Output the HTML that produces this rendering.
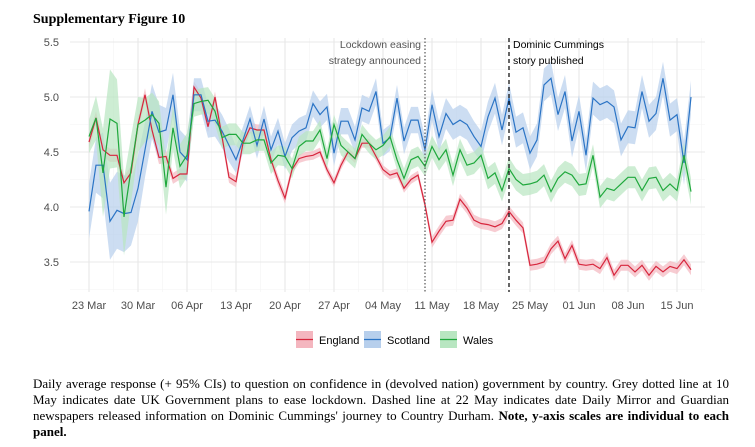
<!DOCTYPE html>
<html><head><meta charset="utf-8">
<style>
body{margin:0;background:#fff;width:755px;height:447px;overflow:hidden;position:relative;font-family:"Liberation Sans",sans-serif}
.cap{position:absolute;left:33px;width:696px;font-family:"Liberation Serif",serif;font-size:13px;color:#000;text-align:justify;text-align-last:justify;white-space:nowrap}
</style></head><body>
<svg id="chart" width="755" height="370" style="position:absolute;left:0;top:0">
<text x="33" y="23" font-family="Liberation Serif,serif" font-weight="bold" font-size="14">Supplementary Figure 10</text>
<g id="grid"></g><g id="bands"></g><g id="lines"></g><g id="axes"></g><g id="legend"></g>
</svg>
<div class="cap" style="top:376px">Daily average response (+ 95% CIs) to question on confidence in (devolved nation) government by country. Grey dotted line at 10</div>
<div class="cap" style="top:392px">May indicates date UK Government plans to ease lockdown. Dashed line at 22 May indicates date Daily Mirror and Guardian</div>
<div class="cap" style="top:408px">newspapers released information on Dominic Cummings' journey to Country Durham. <b>Note, y-axis scales are individual to each</b></div>
<div class="cap" style="top:424px;text-align-last:left"><b>panel.</b></div>
<script>
const xTickLabels=["23 Mar","30 Mar","06 Apr","13 Apr","20 Apr","27 Apr","04 May","11 May","18 May","25 May","01 Jun","08 Jun","15 Jun"];
const yTicks=[3.5,4.0,4.5,5.0,5.5];
const england=[4.59,4.81,4.52,4.47,4.47,4.22,4.31,4.75,5.02,4.70,4.45,4.46,4.26,4.30,4.30,5.09,4.99,4.73,5.0,4.64,4.27,4.23,4.58,4.72,4.70,4.70,4.43,4.24,4.08,4.34,4.44,4.46,4.47,4.50,4.34,4.22,4.38,4.50,4.44,4.58,4.58,4.46,4.34,4.29,4.31,4.17,4.25,4.29,4.02,3.68,3.78,3.87,3.88,4.07,3.99,3.88,3.85,3.84,3.82,3.85,3.96,3.88,3.81,3.47,3.48,3.50,3.62,3.69,3.53,3.65,3.48,3.47,3.48,3.44,3.54,3.38,3.47,3.47,3.41,3.47,3.38,3.46,3.41,3.46,3.44,3.52,3.43];
const scotland=[3.96,4.38,4.38,3.87,3.97,3.94,3.95,4.17,4.52,4.87,4.68,4.70,5.02,4.50,4.43,5.02,5.02,4.78,4.79,4.69,4.56,4.43,4.61,4.80,4.56,4.80,4.52,4.69,4.46,4.63,4.69,4.72,4.94,4.84,4.91,4.49,4.78,4.78,4.61,4.90,4.87,5.05,4.58,4.63,4.99,4.60,4.79,4.79,4.52,4.93,4.64,4.85,4.75,4.79,4.75,4.64,4.55,4.82,4.99,4.70,4.99,4.68,4.72,4.49,4.61,5.11,5.17,4.84,5.05,4.60,4.87,4.47,4.99,4.93,4.96,4.91,4.61,4.73,4.72,5.05,4.78,4.85,5.17,4.79,4.84,4.40,5.0];
const wales=[4.64,4.81,4.31,4.80,4.76,3.91,4.34,4.75,4.79,4.84,4.76,4.18,4.72,4.37,4.47,4.94,4.96,4.97,4.87,4.63,4.66,4.66,4.58,4.58,4.61,4.61,4.40,4.47,4.46,4.35,4.55,4.60,4.60,4.70,4.44,4.75,4.56,4.50,4.44,4.66,4.58,4.52,4.56,4.64,4.43,4.26,4.43,4.46,4.37,4.55,4.43,4.52,4.29,4.52,4.38,4.40,4.47,4.26,4.31,4.15,4.35,4.25,4.20,4.21,4.23,4.29,4.14,4.26,4.32,4.29,4.20,4.21,4.47,4.09,4.17,4.15,4.21,4.27,4.27,4.15,4.26,4.27,4.15,4.21,4.15,4.47,4.14];
const englandCI=[0.06,0.06,0.06,0.06,0.06,0.06,0.06,0.06,0.06,0.06,0.06,0.06,0.05,0.05,0.05,0.05,0.05,0.05,0.05,0.05,0.05,0.05,0.05,0.05,0.05,0.05,0.05,0.05,0.05,0.04,0.04,0.04,0.04,0.04,0.04,0.04,0.04,0.04,0.04,0.04,0.04,0.04,0.04,0.04,0.04,0.04,0.04,0.04,0.04,0.05,0.05,0.05,0.05,0.05,0.05,0.05,0.05,0.05,0.05,0.05,0.05,0.05,0.05,0.05,0.05,0.05,0.05,0.05,0.05,0.05,0.05,0.05,0.05,0.05,0.05,0.05,0.05,0.05,0.05,0.05,0.05,0.05,0.05,0.05,0.05,0.05,0.05];
const scotlandCI=[0.25,0.25,0.3,0.35,0.35,0.35,0.3,0.3,0.25,0.25,0.25,0.2,0.2,0.2,0.2,0.15,0.15,0.15,0.15,0.15,0.15,0.12,0.12,0.12,0.12,0.12,0.12,0.12,0.12,0.12,0.12,0.12,0.12,0.12,0.12,0.12,0.12,0.12,0.12,0.12,0.12,0.12,0.12,0.12,0.12,0.12,0.12,0.12,0.12,0.14,0.14,0.14,0.14,0.14,0.14,0.14,0.14,0.14,0.14,0.14,0.14,0.14,0.14,0.15,0.15,0.15,0.15,0.15,0.15,0.15,0.15,0.15,0.15,0.15,0.15,0.15,0.15,0.15,0.15,0.15,0.15,0.15,0.15,0.15,0.15,0.2,0.15];
const walesCI=[0.15,0.2,0.4,0.45,0.4,0.35,0.3,0.25,0.2,0.2,0.2,0.25,0.2,0.2,0.2,0.12,0.12,0.12,0.12,0.1,0.1,0.1,0.1,0.1,0.1,0.1,0.1,0.09,0.09,0.09,0.09,0.09,0.09,0.09,0.09,0.09,0.09,0.09,0.09,0.09,0.09,0.09,0.09,0.09,0.09,0.09,0.09,0.09,0.09,0.1,0.1,0.1,0.1,0.1,0.1,0.1,0.1,0.1,0.1,0.1,0.1,0.1,0.1,0.1,0.1,0.1,0.1,0.1,0.1,0.1,0.1,0.1,0.1,0.1,0.1,0.1,0.1,0.1,0.1,0.1,0.1,0.1,0.1,0.1,0.1,0.12,0.12];
const seriesNames=["England","Scotland","Wales"];
const NS="http://www.w3.org/2000/svg";
const X0=70,X1=705,Y0=38,Y1=292;
const xS=d=>89+7*d, yS=v=>97+(5.0-v)*110;
function mk(p,t,a){const e=document.createElementNS(NS,t);for(const k in a)e.setAttribute(k,a[k]);p.appendChild(e);return e;}
const grid=document.getElementById('grid'),bands=document.getElementById('bands'),lines=document.getElementById('lines'),axes=document.getElementById('axes'),leg=document.getElementById('legend');
// minor grid
for(let v=3.25;v<=5.5;v+=0.5){const l=mk(grid,'line',{x1:X0,x2:X1,y1:yS(v),y2:yS(v),stroke:'#f3f3f3','stroke-width':0.6});
}
for(let i=0;i<13;i++){const l=mk(grid,'line',{x1:xS(i*7+3.5),x2:xS(i*7+3.5),y1:Y0,y2:Y1,stroke:'#f3f3f3','stroke-width':0.6});
}
yTicks.forEach(v=>{const l=mk(grid,'line',{x1:X0,x2:X1,y1:yS(v),y2:yS(v),stroke:'#e8e8e8','stroke-width':1.1});

const t=mk(axes,'text',{x:59,y:yS(v)+4,'text-anchor':'end','font-size':11,fill:'#4d4d4d'});t.textContent=v.toFixed(1);
});
xTickLabels.forEach((s,i)=>{const l=mk(grid,'line',{x1:xS(i*7),x2:xS(i*7),y1:Y0,y2:Y1,stroke:'#e8e8e8','stroke-width':1.1});

const t=mk(axes,'text',{x:xS(i*7),y:309,'text-anchor':'middle','font-size':11,fill:'#4d4d4d'});t.textContent=s;
});
const cols=[['#d7263d','#f4b6bf'],['#2b74c5','#b7cfec'],['#1fa83c','#b8e6c1']];
[[england,englandCI],[scotland,scotlandCI],[wales,walesCI]].forEach(([d,c],k)=>{
 let up=d.map((v,i)=>xS(i)+','+yS(v+c[i])), lo=d.map((v,i)=>xS(i)+','+yS(v-c[i])).reverse();
 const b=mk(bands,'polygon',{points:up.concat(lo).join(' '),fill:cols[k][1],'fill-opacity':0.7});
 
 const l=mk(lines,'polyline',{points:d.map((v,i)=>xS(i)+','+yS(v)).join(' '),fill:'none',stroke:cols[k][0],'stroke-width':1.2});
 
});
// event lines
let dl=mk(axes,'line',{x1:xS(48),x2:xS(48),y1:Y0,y2:Y1,stroke:'#555','stroke-width':1.2,'stroke-dasharray':'1.5,2'});

let ds=mk(axes,'line',{x1:xS(60),x2:xS(60),y1:Y0,y2:Y1,stroke:'#000','stroke-width':1.2,'stroke-dasharray':'4,3'});

[["Lockdown easing",48],["strategy announced",64]].forEach(([s,y])=>{const t=mk(axes,'text',{x:xS(48)-4,y:y,'text-anchor':'end','font-size':10.5,fill:'#555'});t.textContent=s;
});
[["Dominic Cummings",48],["story published",64]].forEach(([s,y])=>{const t=mk(axes,'text',{x:xS(60)+4,y:y,'font-size':10.5,fill:'#000'});t.textContent=s;
});
// legend
const lx=[296,364,440];
seriesNames.forEach((n,k)=>{const g=mk(leg,'g',{});
 mk(g,'rect',{x:lx[k],y:331,width:17,height:17,fill:cols[k][1]});
 mk(g,'line',{x1:lx[k],x2:lx[k]+17,y1:339.5,y2:339.5,stroke:cols[k][0],'stroke-width':1.2});
 const t=mk(g,'text',{x:lx[k]+23,y:344,'font-size':11,fill:'#000'});t.textContent=n;});
</script>
</body></html>
